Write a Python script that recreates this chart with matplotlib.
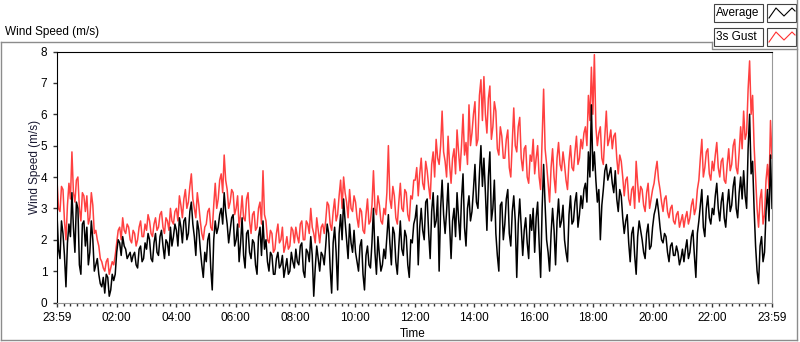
import numpy as np
import matplotlib
matplotlib.use("Agg")
import matplotlib.pyplot as plt
from matplotlib.ticker import MultipleLocator, FixedLocator
from matplotlib.patches import Rectangle
from matplotlib.lines import Line2D

plt.rcParams['font.family'] = ['Liberation Sans', 'DejaVu Sans']

# 3 s gust, m/s, twenty samples per hour
gust = [
    3.9, 3.0, 2.9, 3.7, 3.6, 2.6, 2.0, 3.1, 3.8, 3.3, 4.8, 3.5, 3.2, 3.9, 4.0, 3.0, 2.6, 3.5, 3.4, 2.9,  # 0h
    3.4, 2.5, 2.7, 3.5, 3.1, 2.2, 2.3, 2.0, 1.8, 1.4, 1.3, 1.1, 1.0, 1.3, 1.4, 0.9, 1.1, 1.3, 1.2, 1.5,  # 1h
    1.9, 2.3, 2.4, 2.0, 2.7, 2.3, 2.2, 2.5, 2.4, 2.0, 1.9, 2.3, 2.2, 1.8, 2.0, 2.4, 2.6, 2.1, 2.1, 2.5,  # 2h
    2.3, 2.8, 2.6, 2.2, 2.1, 2.5, 2.7, 2.3, 2.4, 2.8, 2.9, 2.4, 2.2, 2.7, 2.6, 2.3, 3.0, 2.6, 2.5, 2.9,  # 3h
    3.0, 2.6, 3.4, 3.1, 2.7, 3.3, 3.6, 3.0, 3.2, 3.7, 4.1, 3.3, 3.0, 2.7, 3.5, 3.1, 2.6, 2.2, 2.0, 2.4,  # 4h
    2.5, 2.9, 3.0, 2.4, 2.3, 3.1, 3.8, 3.0, 3.3, 3.9, 4.1, 3.5, 4.7, 3.9, 3.6, 3.0, 3.2, 3.6, 3.5, 2.8,  # 5h
    3.0, 3.4, 2.4, 2.8, 3.4, 2.7, 2.6, 3.3, 3.5, 2.6, 2.2, 2.8, 2.9, 2.3, 2.4, 3.0, 3.2, 2.5, 4.2, 2.8,  # 6h
    2.6, 2.0, 1.9, 2.3, 2.2, 1.6, 1.7, 2.2, 2.5, 1.9, 2.0, 2.4, 1.6, 1.8, 2.1, 1.7, 1.8, 2.4, 2.3, 1.9,  # 7h
    2.4, 2.1, 1.9, 2.5, 2.6, 2.0, 2.0, 2.6, 2.5, 2.2, 3.0, 2.4, 2.2, 1.9, 2.7, 2.3, 1.9, 2.4, 2.5, 2.2,  # 8h
    2.6, 3.2, 3.1, 2.5, 2.3, 2.9, 3.3, 2.6, 2.8, 3.4, 3.9, 3.0, 4.0, 3.5, 3.2, 2.7, 3.6, 3.0, 2.9, 3.4,  # 9h
    3.2, 2.7, 2.4, 3.0, 2.9, 2.3, 2.2, 2.8, 3.3, 2.5, 2.6, 3.1, 4.2, 3.0, 2.8, 3.4, 3.1, 2.6, 2.5, 3.0,  # 10h
    2.8, 3.5, 5.0, 3.3, 3.0, 3.7, 3.4, 2.7, 2.5, 3.2, 3.8, 3.0, 2.9, 3.6, 3.5, 2.8, 2.6, 3.4, 3.3, 3.9,  # 11h
    3.9, 4.3, 3.4, 4.1, 4.6, 3.8, 3.6, 4.5, 4.2, 3.7, 3.3, 4.4, 4.8, 4.0, 5.2, 4.6, 4.4, 5.0, 6.1, 4.8,  # 12h
    4.5, 4.0, 5.3, 4.4, 3.8, 4.6, 4.9, 4.1, 5.5, 4.8, 4.2, 5.0, 6.0, 4.7, 5.1, 4.4, 6.3, 5.0, 5.4, 6.0,  # 13h
    6.4, 5.0, 5.2, 6.6, 7.1, 5.8, 7.2, 6.0, 5.4, 6.5, 6.9, 5.2, 5.6, 6.4, 6.1, 4.9, 4.7, 5.6, 5.3, 4.6,  # 14h
    4.6, 5.2, 5.5, 4.3, 4.0, 5.1, 6.2, 5.0, 4.8, 5.6, 5.9, 4.6, 4.2, 4.9, 5.0, 4.0, 3.8, 4.7, 4.5, 5.2,  # 15h
    4.1, 4.6, 5.0, 4.0, 3.6, 5.2, 6.8, 4.9, 4.4, 3.8, 3.2, 4.3, 4.9, 4.0, 3.5, 4.6, 5.1, 4.4, 4.2, 4.8,  # 16h
    4.4, 3.9, 3.6, 4.5, 5.0, 4.3, 4.2, 4.8, 5.3, 4.4, 4.6, 5.2, 4.9, 5.4, 5.6, 5.0, 6.6, 5.8, 7.5, 6.0,  # 17h
    7.9, 5.6, 5.0, 5.4, 5.6, 4.6, 4.4, 5.3, 6.1, 5.0, 5.2, 5.5, 4.9, 5.3, 5.4, 4.6, 4.1, 4.7, 4.5, 4.0,  # 18h
    3.4, 3.9, 4.0, 3.3, 3.1, 3.6, 3.7, 3.0, 4.5, 3.8, 3.2, 3.7, 3.6, 3.1, 2.9, 3.5, 3.8, 3.0, 3.3, 3.6,  # 19h
    3.8, 4.2, 4.5, 3.9, 3.6, 3.2, 2.9, 3.3, 3.4, 2.9, 2.7, 3.0, 3.1, 2.6, 2.5, 2.8, 2.9, 2.4, 2.6, 2.8,  # 20h
    2.4, 2.7, 2.9, 2.5, 2.7, 3.1, 3.3, 2.8, 3.0, 3.6, 3.9, 4.6, 5.2, 4.0, 4.3, 4.8, 4.9, 4.1, 3.9, 4.5,  # 21h
    4.2, 4.7, 5.1, 4.3, 4.0, 4.5, 4.6, 3.9, 3.8, 4.4, 4.9, 4.2, 4.4, 5.0, 5.2, 4.3, 4.1, 4.8, 5.6, 4.9,  # 22h
    6.1, 5.2, 5.4, 6.8, 7.7, 6.0, 6.6, 5.0, 4.0, 3.0, 2.4, 3.3, 3.6, 2.5, 2.8, 3.9, 4.4, 3.6, 5.8, 4.6,  # 23h
]

# average wind speed, m/s
average = [
    2.8, 1.7, 1.4, 2.6, 2.2, 1.5, 0.5, 1.9, 2.5, 2.1, 3.5, 2.4, 1.6, 3.2, 3.0, 1.2, 0.9, 2.5, 2.6, 1.8,  # 0h
    2.4, 1.2, 1.6, 2.6, 2.0, 1.0, 1.2, 1.4, 0.9, 0.6, 0.5, 0.8, 0.3, 0.9, 0.8, 0.2, 0.4, 0.9, 0.7, 0.9,  # 1h
    1.6, 2.0, 1.9, 1.5, 2.1, 1.8, 1.7, 1.4, 1.5, 1.6, 1.3, 1.5, 1.6, 1.2, 1.1, 1.7, 1.8, 1.3, 1.4, 1.9,  # 2h
    1.7, 2.2, 2.0, 1.4, 1.3, 1.9, 2.2, 1.6, 1.5, 2.1, 2.3, 1.8, 1.4, 2.0, 1.9, 1.5, 2.4, 1.8, 2.1, 2.5,  # 3h
    2.3, 1.8, 2.7, 2.4, 1.9, 2.6, 2.7, 2.0, 2.2, 2.9, 3.2, 2.5, 2.1, 1.5, 2.6, 2.3, 1.7, 1.2, 0.8, 1.6,  # 4h
    1.3, 2.0, 2.2, 1.1, 0.4, 2.0, 2.6, 2.2, 2.4, 2.8, 3.0, 2.5, 3.5, 2.9, 2.5, 1.9, 2.3, 2.7, 2.8, 1.8,  # 5h
    2.0, 2.5, 1.3, 1.9, 2.7, 1.5, 1.1, 2.2, 2.3, 1.6, 1.4, 2.0, 1.9, 1.2, 0.9, 2.1, 2.4, 1.5, 2.6, 1.7,  # 6h
    2.0, 1.3, 1.0, 1.6, 1.5, 0.9, 0.9, 1.4, 1.6, 1.1, 1.2, 1.5, 0.8, 1.1, 1.4, 0.9, 1.0, 1.6, 1.3, 1.1,  # 7h
    1.7, 1.3, 1.2, 1.8, 1.9, 1.0, 0.8, 1.7, 1.6, 1.3, 2.1, 1.5, 0.2, 1.1, 1.8, 1.4, 1.0, 1.6, 1.5, 1.2,  # 8h
    1.8, 2.5, 2.2, 1.1, 0.3, 1.9, 2.4, 1.6, 0.4, 2.2, 2.8, 2.0, 3.3, 2.6, 2.0, 1.4, 2.5, 1.9, 1.6, 2.3,  # 9h
    1.6, 1.3, 1.0, 1.8, 2.0, 0.9, 0.4, 1.5, 1.8, 1.2, 1.1, 1.9, 3.0, 1.6, 0.9, 2.1, 1.5, 1.0, 1.2, 1.7,  # 10h
    1.4, 2.1, 2.8, 1.9, 1.2, 2.4, 2.2, 1.3, 0.9, 1.8, 2.6, 1.7, 1.5, 2.3, 2.1, 1.2, 0.8, 2.0, 1.9, 2.5,  # 11h
    2.7, 3.1, 1.2, 2.4, 3.0, 2.3, 2.0, 3.2, 3.3, 2.2, 1.4, 2.9, 3.5, 2.4, 2.6, 3.4, 1.0, 3.0, 3.9, 2.8,  # 12h
    2.2, 2.9, 3.8, 2.5, 1.4, 2.6, 3.0, 2.1, 3.5, 2.7, 2.0, 3.3, 4.1, 2.4, 1.8, 3.0, 3.4, 2.6, 2.9, 3.6,  # 13h
    4.4, 3.2, 3.0, 4.1, 5.0, 3.7, 4.6, 3.5, 2.3, 4.0, 4.8, 2.6, 3.0, 3.9, 2.2, 1.5, 1.0, 3.1, 3.2, 2.0,  # 14h
    2.5, 3.3, 3.6, 2.2, 1.8, 2.9, 3.4, 2.6, 0.8, 2.5, 3.3, 2.4, 1.5, 2.3, 2.7, 1.9, 1.4, 2.8, 2.3, 3.0,  # 15h
    1.6, 2.7, 3.2, 1.9, 0.8, 3.0, 4.4, 3.1, 2.0, 1.6, 1.0, 2.2, 3.0, 2.3, 1.2, 2.6, 3.3, 2.4, 2.6, 3.1,  # 16h
    2.0, 1.6, 1.3, 2.8, 3.4, 2.5, 2.6, 3.2, 3.5, 2.4, 2.8, 3.4, 3.0, 3.6, 3.8, 3.2, 4.8, 4.0, 6.3, 4.2,  # 17h
    4.8, 3.9, 3.2, 3.6, 2.0, 3.1, 3.6, 4.2, 4.4, 3.9, 4.1, 4.3, 3.8, 3.5, 4.2, 3.3, 2.9, 3.6, 3.4, 2.7,  # 18h
    2.2, 2.6, 2.8, 1.9, 1.3, 2.2, 2.4, 1.5, 0.9, 2.1, 2.6, 2.3, 2.0, 1.6, 1.4, 2.2, 2.5, 1.7, 1.8, 2.4,  # 19h
    2.8, 3.0, 3.3, 2.9, 2.4, 2.0, 1.9, 2.2, 2.1, 1.6, 1.3, 1.8, 1.9, 1.5, 1.5, 1.8, 1.6, 1.2, 1.4, 1.7,  # 20h
    1.3, 1.7, 2.0, 1.4, 1.6, 2.1, 2.3, 1.5, 0.8, 2.2, 2.6, 3.1, 3.6, 2.4, 2.1, 3.0, 3.4, 2.7, 2.5, 3.0,  # 21h
    2.8, 3.4, 3.8, 3.0, 2.6, 3.2, 3.5, 2.7, 2.4, 3.1, 3.6, 2.9, 3.1, 3.7, 4.0, 3.0, 2.7, 3.5, 4.0, 3.3,  # 22h
    4.2, 3.4, 3.0, 4.9, 6.0, 4.1, 4.5, 3.0, 1.8, 1.0, 0.6, 1.8, 2.1, 1.3, 1.6, 2.9, 3.6, 2.6, 4.7, 3.0,  # 23h
]

hour_ticks = [0, 2, 4, 6, 8, 10, 12, 14, 16, 18, 20, 22, 24]
hour_labels = ['23:59', '02:00', '04:00', '06:00', '08:00', '10:00', '12:00',
               '14:00', '16:00', '18:00', '20:00', '22:00', '23:59']

hours = np.linspace(0, 24, len(gust))

W, H = 800, 342
def fx(x):
    return x / W
def fy(y):
    return 1 - y / H

fig = plt.figure(figsize=(8, 3.42), dpi=100)
fig.patch.set_facecolor('white')

# outer frame of the front panel graph
frame_col = '#8c8c8c'
fig.add_artist(Line2D([fx(1), fx(712)], [fy(42), fy(42)], color=frame_col, lw=1))
fig.add_artist(Line2D([fx(712), fx(712), fx(797)], [fy(42), fy(49), fy(49)], color=frame_col, lw=1))
fig.add_artist(Line2D([fx(797), fx(797)], [fy(0), fy(340)], color=frame_col, lw=1))
fig.add_artist(Line2D([fx(1), fx(1)], [fy(42), fy(340)], color=frame_col, lw=1))
fig.add_artist(Line2D([fx(1), fx(797)], [fy(340), fy(340)], color=frame_col, lw=1))

fig.text(fx(5), fy(32), 'Wind Speed (m/s)', fontsize=8.5, va='center', ha='left')

ax = fig.add_axes([fx(57), fy(302.5), (772 - 57) / W, (302.5 - 51.5) / H])
ax.plot(hours, gust, color='#ff4040', lw=1.1)
ax.plot(hours, average, color='black', lw=1.1)

ax.set_xlim(0, 24)
ax.set_ylim(0, 8)
ax.xaxis.set_major_locator(FixedLocator(hour_ticks))
ax.set_xticklabels(hour_labels)
ax.xaxis.set_minor_locator(MultipleLocator(2 / 9))
ax.yaxis.set_major_locator(MultipleLocator(1))
ax.tick_params(axis='both', which='major', direction='out', length=3, width=1,
               labelsize=8.5, color='#333333')
ax.tick_params(axis='x', which='major', pad=4)
ax.tick_params(axis='y', which='major', pad=4)
ax.tick_params(axis='x', which='minor', direction='out', length=2, width=1, color='#333333')

ax.spines['top'].set_color('black')
ax.spines['left'].set_color('black')
ax.spines['bottom'].set_color('#999999')
ax.spines['right'].set_color('#999999')

ax.set_ylabel('Wind Speed (m/s)', fontsize=8.5, color='#1a1a33')
ax.yaxis.set_label_coords(-0.022, 0.54)
ax.set_xlabel('Time', fontsize=8.5)
ax.xaxis.set_label_coords(0.498, -0.10)

# legend panel
for row, (name, col) in enumerate([('Average', 'black'), ('3s Gust', '#ff3030')]):
    top = 4 + row * 24
    fig.add_artist(Rectangle((fx(714), fy(top + 18)), 49 / W, 18 / H,
                             facecolor='white', edgecolor='#444444', lw=0.8))
    fig.add_artist(Rectangle((fx(767), fy(top + 18)), 29 / W, 18 / H,
                             facecolor='white', edgecolor='#444444', lw=0.8))
    fig.text(fx(716), fy(top + 9), name, fontsize=8.5, va='center', ha='left')
    zx = [769, 776, 784, 792, 795]
    zy = [top + 14, top + 4, top + 12, top + 4, top + 7]
    fig.add_artist(Line2D([fx(v) for v in zx], [fy(v) for v in zy], color=col, lw=0.8))

fig.savefig('out.png', dpi=100)
